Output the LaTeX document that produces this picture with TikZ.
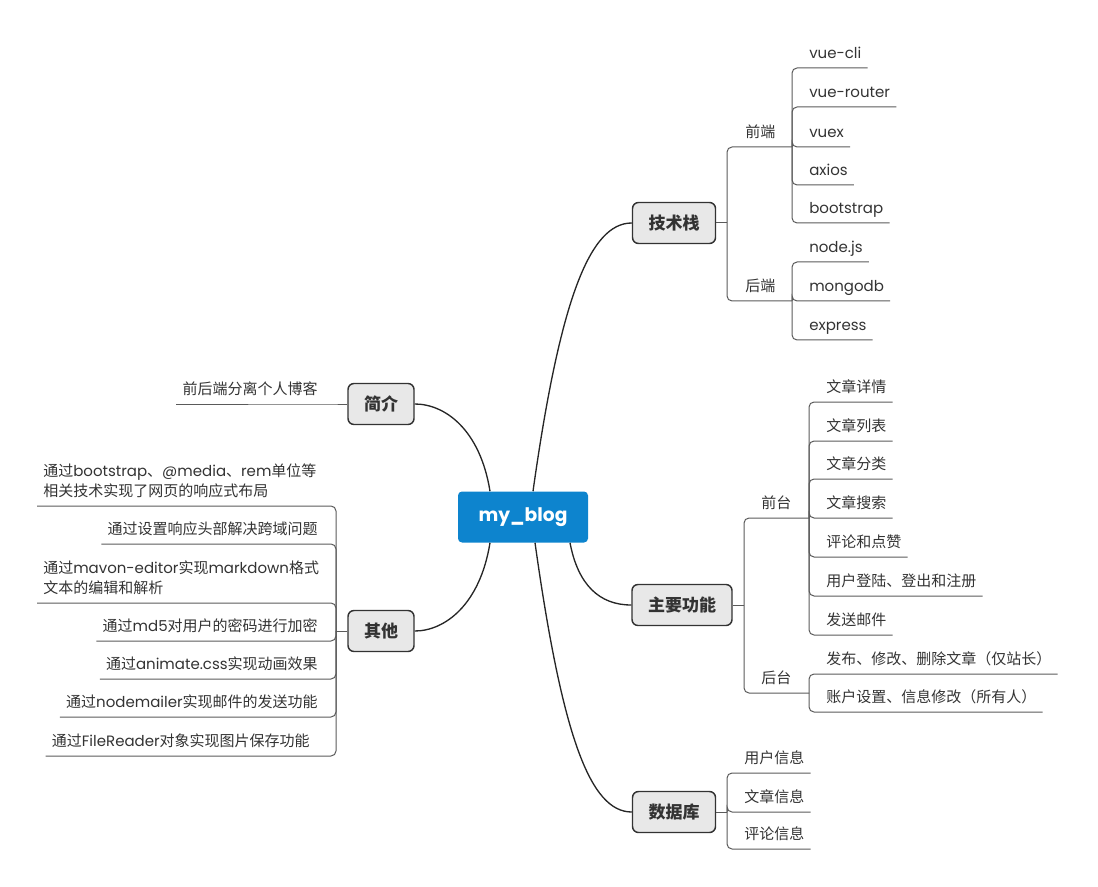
\documentclass[tikz,border=0pt]{standalone}
\usepackage{fontspec}
\setmainfont{Noto Sans CJK SC}
\newfontfamily\lat{Poppins}
\usetikzlibrary{positioning}
\definecolor{blogblue}{HTML}{0D84CE}
\definecolor{topicgray}{HTML}{E8E8E8}
\definecolor{topicline}{HTML}{333333}
\definecolor{linegray}{HTML}{5A5A5A}
\definecolor{textdark}{HTML}{333333}
\newcommand{\leaffont}{\fontsize{11.25pt}{15pt}\selectfont}
\newcommand{\en}[1]{{\lat #1}}
\tikzset{root/.style={fill=blogblue, rounded corners=3pt, minimum width=97.5pt, minimum height=38.25pt,
                      font=\lat\bfseries\fontsize{14pt}{16pt}\selectfont, text=white},
         topic/.style={draw=topicline, fill=topicgray, line width=1.1pt, rounded corners=4.5pt,
                       minimum height=30.75pt, inner xsep=12pt,
                       font=\bfseries\fontsize{12.75pt}{15pt}\selectfont, text=textdark},
         leafbase/.style={inner xsep=4.5pt, font=\leaffont, text=textdark},
         leaf/.style={leafbase, inner ysep=0pt, text height=8pt, text depth=7pt},
         enleaf/.style={leaf, font=\leaffont\lat},
         twoline/.style={leafbase, align=left, inner ysep=6pt},
         branch/.style={draw=black!85, line width=1pt},
         twig/.style={draw=linegray, line width=0.75pt, rounded corners=3.75pt}}
\begin{document}
\begin{tikzpicture}[x=0.75pt, y=-0.75pt]
  \useasboundingbox (0,0) rectangle (1098,887);
  % centre and main topics
  \node[root] (R) at (523,517) {my\_blog};
  \node[topic] (TS) at (674,223) {技术栈};
  \node[topic] (JJ) at (381,404) {简介};
  \node[topic] (QT) at (381,631) {其他};
  \node[topic] (MF) at (682,605) {主要功能};
  \node[topic] (DB) at (674,812) {数据库};
  \draw[branch] ([xshift=7.5pt]R.north) .. controls +(27,-192) and +(-42,0) .. (TS.west);
  \draw[branch] ([xshift=-24.75pt]R.north) .. controls +(-10,-62) and +(30,0) .. (JJ.east);
  \draw[branch] ([xshift=-24.75pt]R.south) .. controls +(-10,62) and +(30,0) .. (QT.east);
  \draw[branch] ([xshift=35.25pt]R.south) .. controls +(8,42) and +(-32,0) .. (MF.west);
  \draw[branch] ([xshift=9pt]R.south) .. controls +(27,192) and +(-42,0) .. (DB.west);
  % 技术栈
  \coordinate (TSj) at (727,223);
  \node[leaf, anchor=south west] (FE) at (739,147) {前端};
  \node[leaf, anchor=south west] (BE) at (739,301) {后端};
  \coordinate (FEj) at (792,147);
  \coordinate (BEj) at (792,301);
  \node[enleaf, anchor=south west] (FE1) at (803,68) {vue-cli};
  \node[enleaf, anchor=south west] (FE2) at (803,107) {vue-router};
  \node[enleaf, anchor=south west] (FE3) at (803,147) {vuex};
  \node[enleaf, anchor=south west] (FE4) at (803,185) {axios};
  \node[enleaf, anchor=south west] (FE5) at (803,223) {bootstrap};
  \node[enleaf, anchor=south west] (BE1) at (803,262) {node.js};
  \node[enleaf, anchor=south west] (BE2) at (803,301) {mongodb};
  \node[enleaf, anchor=south west] (BE3) at (803,340) {express};
  \draw[twig] (TS.east) -- (TSj);
  \foreach \n in {FE,BE}
    \draw[twig] (TSj) |- (\n.south west) -- (\n.south east) -- (\n j);
  \foreach \i in {1,...,5}
    \draw[twig] (FEj) |- (FE\i.south west) -- (FE\i.south east);
  \foreach \i in {1,...,3}
    \draw[twig] (BEj) |- (BE\i.south west) -- (BE\i.south east);
  % 主要功能
  \coordinate (MFj) at (744,605);
  \node[leaf, anchor=south west] (FT) at (755,518) {前台};
  \node[leaf, anchor=south west] (BT) at (755,693) {后台};
  \coordinate (FTj) at (809,518);
  \coordinate (BTj) at (809,693);
  \node[leaf, anchor=south west] (FT1) at (820,402) {文章详情};
  \node[leaf, anchor=south west] (FT2) at (820,441) {文章列表};
  \node[leaf, anchor=south west] (FT3) at (820,479) {文章分类};
  \node[leaf, anchor=south west] (FT4) at (820,518) {文章搜索};
  \node[leaf, anchor=south west] (FT5) at (820,557) {评论和点赞};
  \node[leaf, anchor=south west] (FT6) at (820,596) {用户登陆、登出和注册};
  \node[leaf, anchor=south west] (FT7) at (820,635) {发送邮件};
  \node[leaf, anchor=south west] (BT1) at (820,674) {发布、修改、删除文章（仅站长）};
  \node[leaf, anchor=south west] (BT2) at (820,712) {账户设置、信息修改（所有人）};
  \draw[twig] (MF.east) -- (MFj);
  \foreach \n in {FT,BT}
    \draw[twig] (MFj) |- (\n.south west) -- (\n.south east) -- (\n j);
  \foreach \i in {1,...,7}
    \draw[twig] (FTj) |- (FT\i.south west) -- (FT\i.south east);
  \foreach \i in {1,2}
    \draw[twig] (BTj) |- (BT\i.south west) -- (BT\i.south east);
  % 数据库
  \coordinate (DBj) at (727,812);
  \node[leaf, anchor=south west] (DB1) at (738,773) {用户信息};
  \node[leaf, anchor=south west] (DB2) at (738,812) {文章信息};
  \node[leaf, anchor=south west] (DB3) at (738,849) {评论信息};
  \draw[twig] (DB.east) -- (DBj);
  \foreach \i in {1,...,3}
    \draw[twig] (DBj) |- (DB\i.south west) -- (DB\i.south east);
  % 简介
  \node[leaf, anchor=south east] (JJ1) at (324,404) {前后端分离个人博客};
  \draw[twig] (JJ.west) -- (JJ1.south east) -- (JJ1.south west);
  % 其他
  \coordinate (QTj) at (336,631);
  \node[twoline, anchor=south west] (QT1) at (37,506) {通过\en{bootstrap}、\en{@media}、\en{rem}单位等\\相关技术实现了网页的响应式布局};
  \node[leaf, anchor=south east] (QT2) at (324,544) {通过设置响应头部解决跨域问题};
  \node[twoline, anchor=south west] (QT3) at (37,603) {通过\en{mavon-editor}实现\en{markdown}格式\\文本的编辑和解析};
  \node[leaf, anchor=south east] (QT4) at (324,641) {通过\en{md5}对用户的密码进行加密};
  \node[leaf, anchor=south east] (QT5) at (324,679) {通过\en{animate.css}实现动画效果};
  \node[leaf, anchor=south east] (QT6) at (324,717) {通过\en{nodemailer}实现邮件的发送功能};
  \node[leaf, anchor=south east] (QT7) at (316,756) {通过\en{FileReader}对象实现图片保存功能};
  \draw[twig] (QT.west) -- (QTj);
  \foreach \i in {1,...,7}
    \draw[twig] (QTj) |- (QT\i.south east) -- (QT\i.south west);
\end{tikzpicture}
\end{document}
